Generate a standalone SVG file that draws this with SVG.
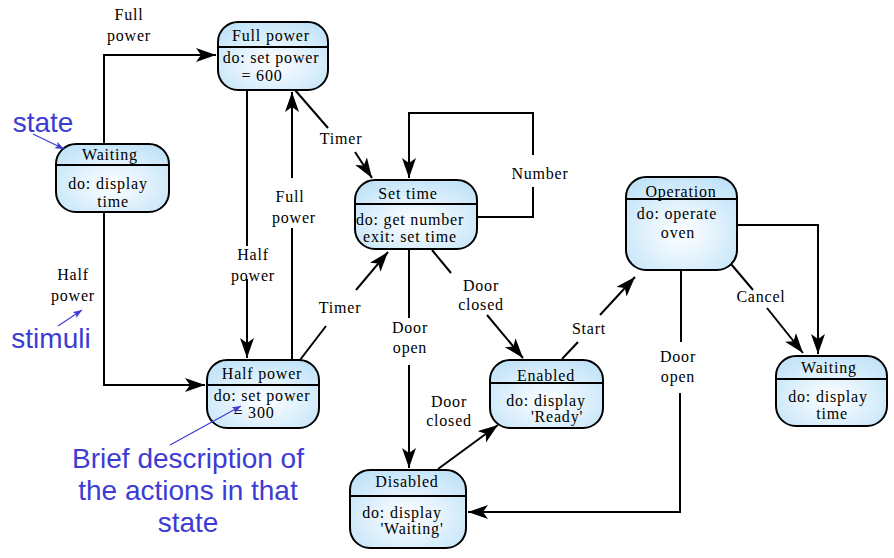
<svg xmlns="http://www.w3.org/2000/svg" width="894" height="558" viewBox="0 0 894 558">
<style>
.node rect{fill:url(#g);stroke:#000;stroke-width:2}
.node line{stroke:#000;stroke-width:2}
.t{font-family:"Liberation Serif","Times New Roman",serif;font-size:16px;letter-spacing:0.8px;text-anchor:middle;fill:#000}
.c{fill:none;stroke:#000;stroke-width:2}
.ann{font-family:"Liberation Sans",Arial,sans-serif;font-size:28px;fill:#3c3cd4;text-anchor:middle}
.al{stroke:#3c3cd4;stroke-width:1.2;fill:none}
</style>
<defs>
<radialGradient id="g" cx="50%" cy="60%" r="70%">
<stop offset="0" stop-color="#ffffff"/>
<stop offset="1" stop-color="#bde1f8"/>
</radialGradient>
<marker id="a" markerUnits="userSpaceOnUse" markerWidth="22" markerHeight="16" refX="20" refY="7" orient="auto">
<path d="M0,0 L20,7 L0,14 L5,7 z" fill="#000"/>
</marker>
<marker id="b" markerUnits="userSpaceOnUse" markerWidth="10" markerHeight="8" refX="9" refY="3.5" orient="auto">
<path d="M0,0 L9,3.5 L0,7 L2,3.5 z" fill="#3c3cd4"/>
</marker>
</defs>
<rect width="894" height="558" fill="#fff"/>

<g id="connectors">
<path class="c" d="M104,144 V55 H216" marker-end="url(#a)"/>
<path class="c" d="M104,212 V385 H205" marker-end="url(#a)"/>
<path class="c" d="M247,90 V246"/>
<path class="c" d="M247,279 V358" marker-end="url(#a)"/>
<path class="c" d="M292,360 V228"/>
<path class="c" d="M292,178 V92" marker-end="url(#a)"/>
<path class="c" d="M295,90 L328,128"/>
<path class="c" d="M355,152 L372,178" marker-end="url(#a)"/>
<path class="c" d="M300,360 L326,326"/>
<path class="c" d="M356,290 L388,252" marker-end="url(#a)"/>
<path class="c" d="M476,217 H533 V187"/>
<path class="c" d="M533,155 V113 H409 V178" marker-end="url(#a)"/>
<path class="c" d="M409,250 V318"/>
<path class="c" d="M409,365 V468" marker-end="url(#a)"/>
<path class="c" d="M432,250 L451,273"/>
<path class="c" d="M487,315 L523,358" marker-end="url(#a)"/>
<path class="c" d="M438,469 L498,425" marker-end="url(#a)"/>
<path class="c" d="M562,359 L578,342"/>
<path class="c" d="M600,315 L635,277" marker-end="url(#a)"/>
<path class="c" d="M681,270 V342"/>
<path class="c" d="M680,393 V512 H468" marker-end="url(#a)"/>
<path class="c" d="M731,264 L753,290"/>
<path class="c" d="M767,308 L803,353" marker-end="url(#a)"/>
<path class="c" d="M737,225 H818 V354" marker-end="url(#a)"/>
</g>

<g id="labels">
<text class="t" x="129" y="20">Full</text>
<text class="t" x="129" y="41">power</text>
<text class="t" x="73" y="280">Half</text>
<text class="t" x="73" y="301">power</text>
<text class="t" x="253" y="260">Half</text>
<text class="t" x="253" y="281">power</text>
<text class="t" x="290" y="202">Full</text>
<text class="t" x="294" y="223">power</text>
<text class="t" x="341" y="144">Timer</text>
<text class="t" x="340" y="313">Timer</text>
<text class="t" x="540" y="179">Number</text>
<text class="t" x="410" y="333">Door</text>
<text class="t" x="410" y="353">open</text>
<text class="t" x="481" y="291">Door</text>
<text class="t" x="481" y="310">closed</text>
<text class="t" x="449" y="407">Door</text>
<text class="t" x="449" y="426">closed</text>
<text class="t" x="589" y="334">Start</text>
<text class="t" x="761" y="302">Cancel</text>
<text class="t" x="678" y="362">Door</text>
<text class="t" x="678" y="382">open</text>
</g>

<g id="n-waiting1" class="node">
<rect x="56" y="144" width="113" height="68" rx="20"/>
<line x1="57" y1="165" x2="168" y2="165"/>
<text class="t" x="110" y="160">Waiting</text>
<text class="t" x="108" y="189">do: display</text>
<text class="t" x="113" y="207">time</text>
</g>
<g id="n-fullpower" class="node">
<rect x="218" y="22" width="110" height="68" rx="20"/>
<line x1="219" y1="47" x2="327" y2="47"/>
<text class="t" x="271" y="41">Full power</text>
<text class="t" x="271" y="63">do: set power</text>
<text class="t" x="262" y="81">= 600</text>
</g>
<g id="n-settime" class="node">
<rect x="355" y="180" width="122" height="69" rx="20"/>
<line x1="356" y1="204" x2="476" y2="204"/>
<text class="t" x="408" y="199">Set time</text>
<text class="t" x="410" y="225">do: get number</text>
<text class="t" x="410" y="242">exit: set time</text>
</g>
<g id="n-halfpower" class="node">
<rect x="207" y="360" width="112" height="68" rx="20"/>
<line x1="208" y1="385" x2="318" y2="385"/>
<text class="t" x="262" y="379">Half power</text>
<text class="t" x="262" y="401">do: set power</text>
<text class="t" x="254" y="418">= 300</text>
</g>
<g id="n-enabled" class="node">
<rect x="490" y="360" width="113" height="68" rx="20"/>
<line x1="491" y1="383" x2="602" y2="383"/>
<text class="t" x="546" y="381">Enabled</text>
<text class="t" x="546" y="406">do: display</text>
<text class="t" x="557" y="422">'Ready'</text>
</g>
<g id="n-disabled" class="node">
<rect x="350" y="470" width="116" height="78" rx="20"/>
<line x1="351" y1="496" x2="466" y2="496"/>
<text class="t" x="407" y="487">Disabled</text>
<text class="t" x="402" y="518">do: display</text>
<text class="t" x="412" y="534">'Waiting'</text>
</g>
<g id="n-operation" class="node">
<rect x="626" y="177" width="111" height="93" rx="20"/>
<line x1="627" y1="199" x2="736" y2="199"/>
<text class="t" x="681" y="197">Operation</text>
<text class="t" x="677" y="219">do: operate</text>
<text class="t" x="678" y="238">oven</text>
</g>
<g id="n-waiting2" class="node">
<rect x="776" y="356" width="111" height="70" rx="20"/>
<line x1="777" y1="379" x2="886" y2="379"/>
<text class="t" x="829" y="373">Waiting</text>
<text class="t" x="828" y="402">do: display</text>
<text class="t" x="832" y="419">time</text>
</g>

<g id="annotations">
<text class="ann" x="43" y="132">state</text>
<path class="al" d="M33,134 L64,149" marker-end="url(#b)"/>
<text class="ann" x="51" y="348">stimuli</text>
<path class="al" d="M58,326 L82,310" marker-end="url(#b)"/>
<text class="ann" x="188" y="468">Brief description of</text>
<text class="ann" x="188" y="500">the actions in that</text>
<text class="ann" x="188" y="532">state</text>
<path class="al" d="M170,445 L241,406" marker-end="url(#b)"/>
</g>
</svg>
